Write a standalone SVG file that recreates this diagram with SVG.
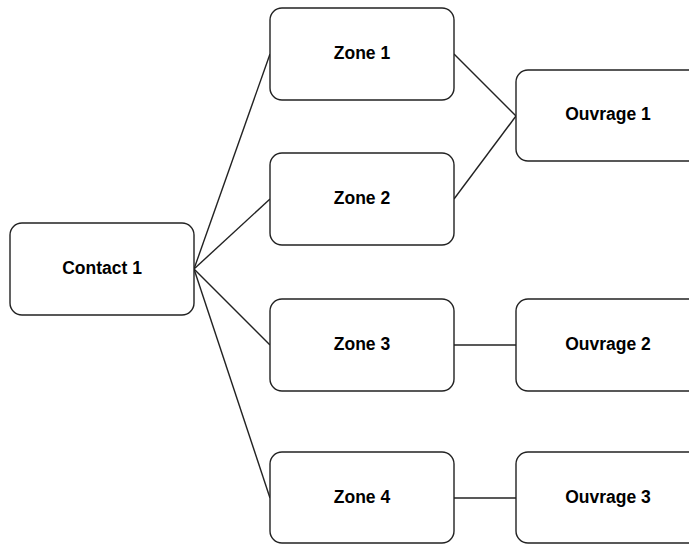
<svg xmlns="http://www.w3.org/2000/svg" width="689" height="544" viewBox="0 0 689 544">
<style>
.box{fill:#fff;stroke:#222;stroke-width:1.4}
.lbl{font-family:"Liberation Sans",Arial,sans-serif;font-weight:bold;font-size:17.5px;fill:#000;text-anchor:middle;dominant-baseline:central}
.edge{stroke:#222;stroke-width:1.4;fill:none}
</style>
<rect width="689" height="544" fill="#fff"/>
<g id="connectors">
<line class="edge" x1="194" y1="269" x2="270" y2="54"/>
<line class="edge" x1="194" y1="269" x2="270" y2="199"/>
<line class="edge" x1="194" y1="269" x2="270" y2="345"/>
<line class="edge" x1="194" y1="269" x2="270" y2="498"/>
<line class="edge" x1="454" y1="54" x2="516" y2="116"/>
<line class="edge" x1="454" y1="199" x2="516" y2="116"/>
<line class="edge" x1="454" y1="345" x2="516" y2="345"/>
<line class="edge" x1="454" y1="498" x2="516" y2="498"/>
</g>
<g id="contact1"><rect class="box" x="10" y="223" width="184" height="92" rx="12"/><text class="lbl" x="102" y="268">Contact 1</text></g>
<g id="zone1"><rect class="box" x="270" y="8" width="184" height="92" rx="12"/><text class="lbl" x="362" y="53">Zone 1</text></g>
<g id="zone2"><rect class="box" x="270" y="153" width="184" height="92" rx="12"/><text class="lbl" x="362" y="198">Zone 2</text></g>
<g id="zone3"><rect class="box" x="270" y="299" width="184" height="92" rx="12"/><text class="lbl" x="362" y="344">Zone 3</text></g>
<g id="zone4"><rect class="box" x="270" y="452" width="184" height="91" rx="12"/><text class="lbl" x="362" y="497">Zone 4</text></g>
<g id="ouvrage1"><rect class="box" x="516" y="70" width="184" height="91" rx="12"/><text class="lbl" x="608" y="114">Ouvrage 1</text></g>
<g id="ouvrage2"><rect class="box" x="516" y="299" width="184" height="92" rx="12"/><text class="lbl" x="608" y="344">Ouvrage 2</text></g>
<g id="ouvrage3"><rect class="box" x="516" y="452" width="184" height="91" rx="12"/><text class="lbl" x="608" y="497">Ouvrage 3</text></g>
</svg>
